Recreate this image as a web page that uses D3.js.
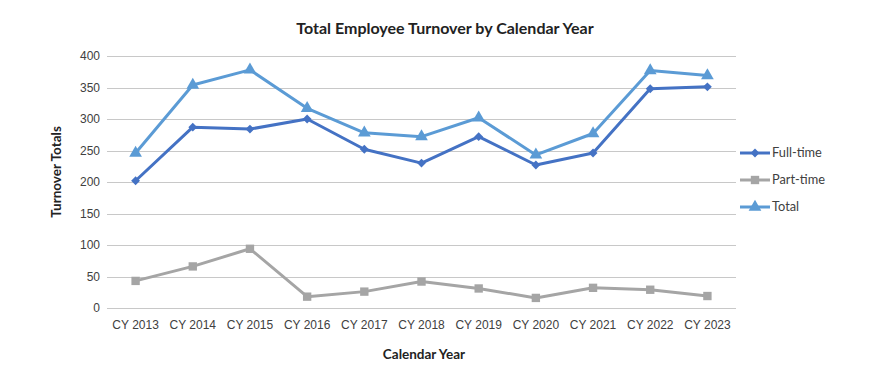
<!DOCTYPE html>
<html lang="en">
<head>
<meta charset="UTF-8">
<title>Total Employee Turnover by Calendar Year</title>
<script src="https://d3js.org/d3.v7.min.js"></script>
<style>
    body { margin: 0; background: #fff; font-family: Lato, "Open Sans", sans-serif; }
    .grid line { stroke: #c8c8c8; stroke-width: 1; }
    .tick text { fill: #404040; font-size: 12px; }
</style>
</head>
<body>
<div id="chart"></div>
<script>
var years = ["CY 2013", "CY 2014", "CY 2015", "CY 2016", "CY 2017", "CY 2018",
             "CY 2019", "CY 2020", "CY 2021", "CY 2022", "CY 2023"];
var fullTime = [202, 287, 284, 300, 252, 230, 272, 227, 246, 348, 351];
var partTime = [43, 66, 94, 18, 26, 42, 31, 16, 32, 29, 19];
var total = [246, 354, 378, 317, 278, 272, 302, 243, 277, 377, 369];
var yTicks = [0, 50, 100, 150, 200, 250, 300, 350, 400];

var series = [
    { name: "Full-time", values: fullTime, color: "#4472c4", marker: "diamond" },
    { name: "Part-time", values: partTime, color: "#a5a5a5", marker: "square" },
    { name: "Total", values: total, color: "#5b9bd5", marker: "triangle" }
];

var width = 871, height = 385;
var margin = { left: 107, right: 135, top: 56, bottom: 77 };

var svg = d3.select("#chart").append("svg")
    .attr("width", width)
    .attr("height", height);

var x = d3.scaleBand()
    .domain(years)
    .range([margin.left, width - margin.right]);

var y = d3.scaleLinear()
    .domain([0, 400])
    .range([height - margin.bottom, margin.top]);

// gridlines
svg.append("g")
    .attr("class", "grid")
    .selectAll("line")
    .data(yTicks)
    .enter().append("line")
    .attr("x1", margin.left)
    .attr("x2", width - margin.right)
    .attr("y1", function(d) { return Math.round(y(d)) + 0.5; })
    .attr("y2", function(d) { return Math.round(y(d)) + 0.5; });

// y axis labels
var yAxis = svg.append("g")
    .attr("transform", "translate(" + (margin.left - 3) + ",0)")
    .call(d3.axisLeft(y).tickValues(yTicks).tickSize(0).tickPadding(4));
yAxis.select(".domain").remove();

// x axis labels
var xAxis = svg.append("g")
    .attr("transform", "translate(0," + (height - margin.bottom) + ")")
    .call(d3.axisBottom(x).tickSize(0).tickPadding(12));
xAxis.select(".domain").remove();

var line = d3.line()
    .x(function(d, i) { return x(years[i]) + x.bandwidth() / 2; })
    .y(function(d) { return y(d); });

function markerPath(type) {
    if (type === "diamond") return d3.symbol().type(d3.symbolDiamond2).size(50)();
    if (type === "square") return d3.symbol().type(d3.symbolSquare).size(70)();
    return d3.symbol().type(d3.symbolTriangle).size(70)();
}

series.forEach(function(s) {
    svg.append("path")
        .datum(s.values)
        .attr("fill", "none")
        .attr("stroke", s.color)
        .attr("stroke-width", 3)
        .attr("stroke-linejoin", "round")
        .attr("d", line);

    svg.selectAll(".m-" + s.marker)
        .data(s.values)
        .enter().append("path")
        .attr("class", "m-" + s.marker)
        .attr("d", markerPath(s.marker))
        .attr("fill", s.color)
        .attr("transform", function(d, i) {
            return "translate(" + (x(years[i]) + x.bandwidth() / 2) + "," + y(d) + ")";
        });
});

// legend
var legend = svg.selectAll(".legend")
    .data(series)
    .enter().append("g")
    .attr("class", "legend")
    .attr("transform", function(d, i) { return "translate(740," + (153 + i * 27) + ")"; });

legend.append("line")
    .attr("x1", 0).attr("x2", 30)
    .attr("stroke", function(d) { return d.color; })
    .attr("stroke-width", 3);

legend.append("path")
    .attr("d", function(d) { return markerPath(d.marker); })
    .attr("fill", function(d) { return d.color; })
    .attr("transform", "translate(15,0)");

legend.append("text")
    .attr("x", 32)
    .attr("dy", "0.35em")
    .style("font-size", "12.8px")
    .style("fill", "#404040")
    .text(function(d) { return d.name; });

// titles
svg.append("text")
    .attr("x", 445).attr("y", 34)
    .attr("text-anchor", "middle")
    .style("font-size", "16px")
    .style("font-weight", "bold")
    .style("fill", "#222")
    .text("Total Employee Turnover by Calendar Year");

svg.append("text")
    .attr("transform", "translate(61,172) rotate(-90)")
    .attr("text-anchor", "middle")
    .style("font-size", "13.5px")
    .style("font-weight", "bold")
    .style("fill", "#222")
    .text("Turnover Totals");

svg.append("text")
    .attr("x", 424).attr("y", 359)
    .attr("text-anchor", "middle")
    .style("font-size", "13.5px")
    .style("font-weight", "bold")
    .style("fill", "#222")
    .text("Calendar Year");
</script>
</body>
</html>
